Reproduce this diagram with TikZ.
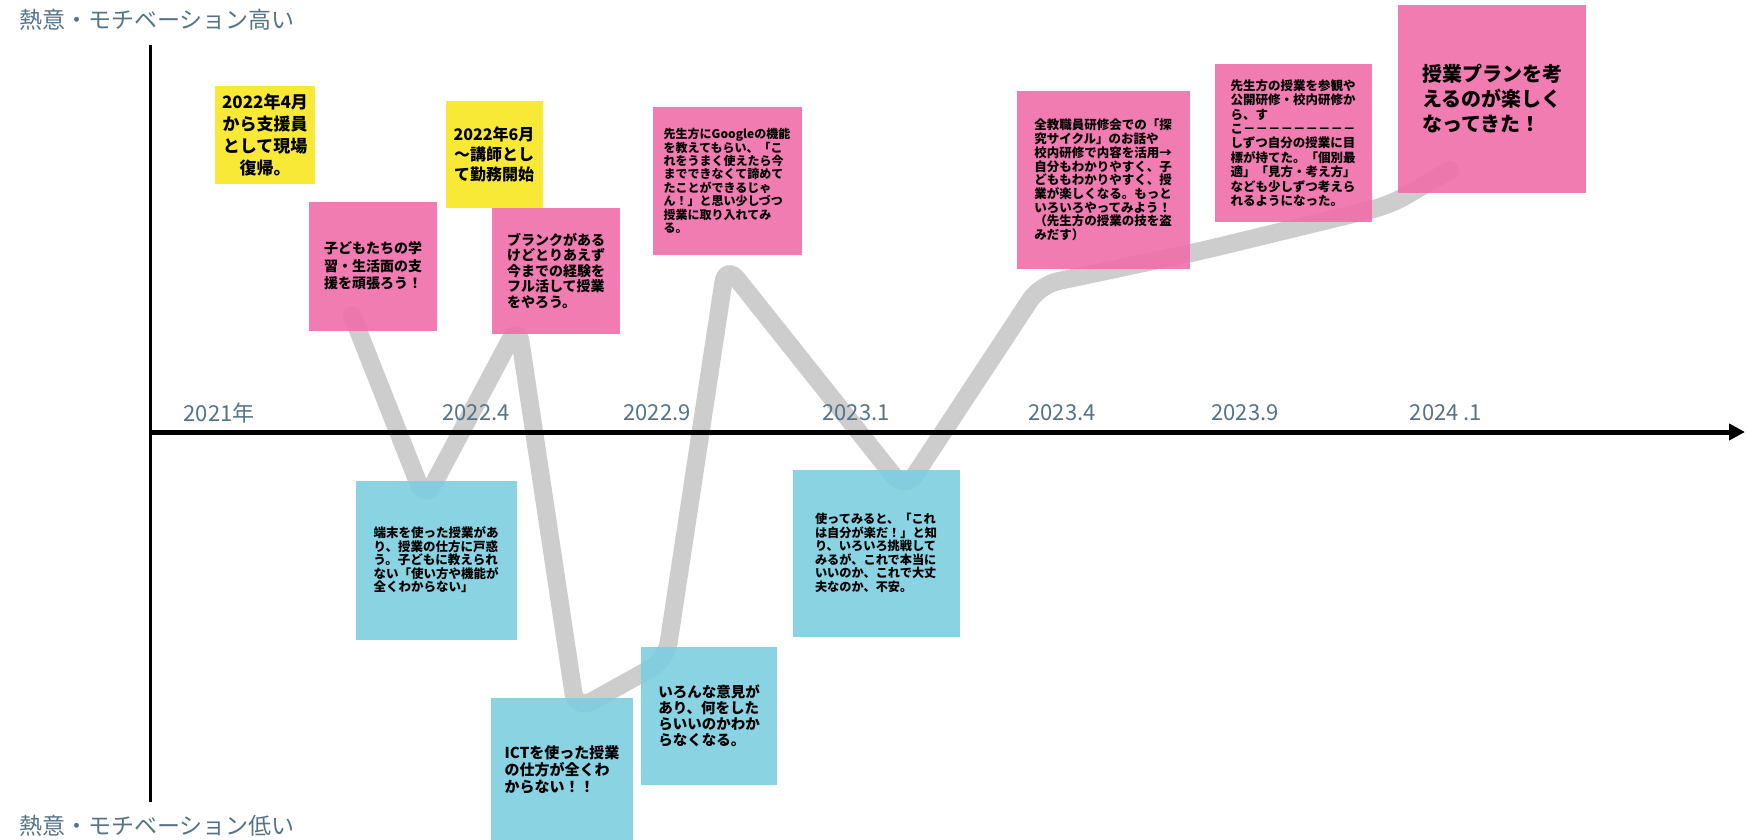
\documentclass[tikz,border=0pt]{standalone}
\usepackage{fontspec}
\setmainfont{Noto Sans CJK JP}
\usepackage{xcolor}
\usepackage{tikz}
\usetikzlibrary{arrows.meta}

\definecolor{noteyellow}{RGB}{247,231,32}
\definecolor{notepink}{RGB}{240,110,170}
\definecolor{noteblue}{RGB}{124,206,224}
\definecolor{curvegray}{RGB}{205,205,205}
\definecolor{labelgray}{RGB}{85,115,135}

\begin{document}
\begin{tikzpicture}[x=1pt,y=-1pt,semithick]
  \tikzstyle{note}=[inner sep=0pt, fill opacity=0.9, text opacity=1]
  \tikzstyle{yel}=[note, fill=noteyellow, align=center]
  \tikzstyle{pnk}=[note, fill=notepink, align=left]
  \tikzstyle{blu}=[note, fill=noteblue, align=left]
  \tikzstyle{tick}=[text=labelgray, font=\fontsize{22}{24}\selectfont]
  \useasboundingbox (0,0) rectangle (1747,839);

  % motivation curve
  \draw[curvegray, line width=18pt, line cap=round, rounded corners=18pt]
    (352,315) -- (425,500) -- (518,325) -- (576,710) -- (666,660) -- (726,265)
    -- (905,490) -- (1040,285) -- (1205,250) -- (1390,205) -- (1450,170);

  % axes
  \coordinate (O) at (150,432);
  \coordinate (Top) at (150,45);
  \coordinate (Bot) at (150,802);
  \coordinate (End) at (1745,432);
  \draw[line width=3pt] (Top) -- (Bot);
  \draw[line width=5pt, -{Triangle[length=16pt,width=16pt]}] (O) -- (End);

  \node[text=labelgray, font=\fontsize{23}{25}\selectfont] (High) at (157,20) {熱意・モチベーション高い};
  \node[text=labelgray, font=\fontsize{23}{25}\selectfont] (Low) at (157,826) {熱意・モチベーション低い};

  \node[tick] (T1) at (219,413) {2021年};
  \node[tick] (T2) at (476,413) {2022.4};
  \node[tick] (T3) at (657,413) {2022.9};
  \node[tick] (T4) at (856,413) {2023.1};
  \node[tick] (T5) at (1062,413) {2023.4};
  \node[tick] (T6) at (1245,413) {2023.9};
  \node[tick] (T7) at (1446,413) {2024 .1};

  % sticky notes, above the axis
  \node[yel, minimum width=100pt, minimum height=98pt, font=\bfseries\fontsize{17}{22}\selectfont]
    (Y1) at (265,135) {2022年4月\\から支援員\\として現場\\復帰。};
  \node[pnk, minimum width=128pt, minimum height=129pt, font=\bfseries\fontsize{14}{17.5}\selectfont]
    (P1) at (373,266) {子どもたちの学\\習・生活面の支\\援を頑張ろう！};
  \node[yel, minimum width=97pt, minimum height=107pt, font=\bfseries\fontsize{16}{20}\selectfont]
    (Y2) at (494,154) {2022年6月\\～講師とし\\て勤務開始};
  \node[pnk, minimum width=128pt, minimum height=126pt, font=\bfseries\fontsize{14}{15.5}\selectfont]
    (P2) at (556,271) {ブランクがある\\けどとりあえず\\今までの経験を\\フル活して授業\\をやろう。};
  \node[pnk, minimum width=149pt, minimum height=148pt, font=\bfseries\fontsize{12}{13.4}\selectfont]
    (P3) at (727,181) {先生方にGoogleの機能\\を教えてもらい、「こ\\れをうまく使えたら今\\までできなくて諦めて\\たことができるじゃ\\ん！」と思い少しづつ\\授業に取り入れてみ\\る。};
  \node[pnk, minimum width=173pt, minimum height=178pt, font=\bfseries\fontsize{12.5}{13.7}\selectfont]
    (P4) at (1103,180) {全教職員研修会での「探\\究サイクル」のお話や\\校内研修で内容を活用→\\自分もわかりやすく、子\\どももわかりやすく、授\\業が楽しくなる。もっと\\いろいろやってみよう！\\（先生方の授業の技を盗\\みだす）};
  \node[pnk, minimum width=157pt, minimum height=158pt, font=\bfseries\fontsize{12.5}{14.4}\selectfont]
    (P5) at (1293,143) {先生方の授業を参観や\\公開研修・校内研修か\\ら、す\\こ－－－－－－－－－\\しずつ自分の授業に目\\標が持てた。「個別最\\適」「見方・考え方」\\なども少しずつ考えら\\れるようになった。};
  \node[pnk, minimum width=188pt, minimum height=188pt, font=\bfseries\fontsize{20}{25}\selectfont]
    (P6) at (1492,99) {授業プランを考\\えるのが楽しく\\なってきた！};

  % sticky notes, below the axis
  \node[blu, minimum width=161pt, minimum height=159pt, font=\bfseries\fontsize{12.5}{13.5}\selectfont]
    (B1) at (436,560) {端末を使った授業があ\\り、授業の仕方に戸惑\\う。子どもに教えられ\\ない「使い方や機能が\\全くわからない」};
  \node[blu, minimum width=142pt, minimum height=144pt, font=\bfseries\fontsize{15}{17}\selectfont]
    (B2) at (562,770) {ICTを使った授業\\の仕方が全くわ\\からない！！};
  \node[blu, minimum width=136pt, minimum height=138pt, font=\bfseries\fontsize{14.5}{15.8}\selectfont]
    (B3) at (709,716) {いろんな意見が\\あり、何をした\\らいいのかわか\\らなくなる。};
  \node[blu, minimum width=167pt, minimum height=167pt, font=\bfseries\fontsize{12.2}{13.5}\selectfont]
    (B4) at (876,553) {使ってみると、「これ\\は自分が楽だ！」と知\\り、いろいろ挑戦して\\みるが、これで本当に\\いいのか、これで大丈\\夫なのか、不安。};
\end{tikzpicture}
\end{document}
